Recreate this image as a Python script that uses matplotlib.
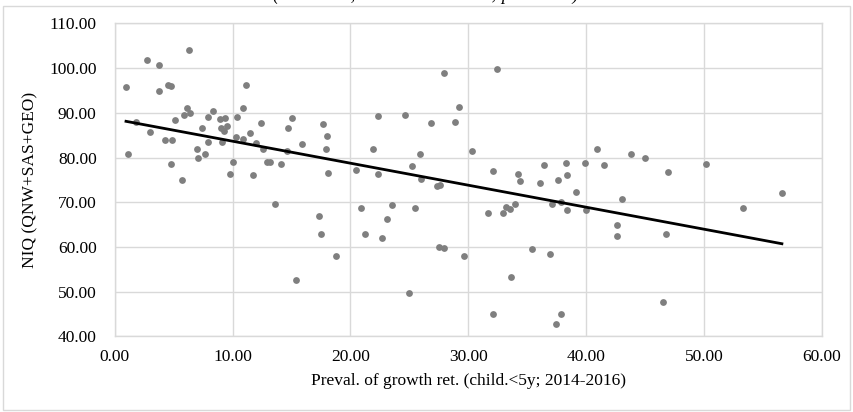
import numpy as np
import matplotlib
matplotlib.use("Agg")
import matplotlib.pyplot as plt
from matplotlib.patches import Rectangle

# prevalence of growth retardation (x) vs NIQ (y)
preval = [0.96, 1.1, 1.8, 2.7, 3.0, 3.8, 3.8, 4.5, 4.8, 4.3, 4.9, 4.8, 5.1, 5.7, 6.3, 6.1, 5.9, 6.4,
          7.0, 7.1, 7.4, 7.7, 7.9, 7.9, 8.3, 8.9, 9.4, 9.0, 9.5, 9.3, 9.1, 10.0, 9.8, 10.4, 10.3,
          10.9, 11.1, 10.9, 11.5, 12.4, 12.0, 12.6, 12.9, 13.2, 11.7, 13.6, 14.1, 15.0, 14.7, 14.6,
          15.9, 15.4, 17.7, 18.0, 17.9, 18.1, 17.3, 17.5, 18.8, 20.5, 20.9, 21.2, 21.9, 22.3, 22.3,
          22.7, 23.1, 23.5, 24.6, 25.0, 25.2, 25.5, 25.9, 26.0, 26.8, 27.3, 27.6, 27.5, 27.9, 27.9,
          28.9, 29.2, 29.6, 30.3, 31.7, 32.1, 32.1, 32.4, 32.9, 33.2, 33.5, 33.6, 34.0, 34.2, 34.4,
          35.4, 36.1, 36.4, 36.9, 37.1, 37.6, 37.4, 37.9, 37.9, 38.3, 38.4, 38.4, 39.1, 39.9, 40.0,
          40.9, 41.5, 42.6, 42.6, 43.0, 43.8, 45.0, 46.9, 50.2, 56.6, 53.3, 46.5, 46.8]
niq = [95.8, 80.7, 88.0, 101.7, 85.7, 100.7, 94.8, 96.3, 95.9, 83.9, 84.0, 78.6, 88.3, 75.0, 104.1, 91.0, 89.6, 90.0,
       81.9, 79.9, 86.6, 80.7, 83.4, 89.0, 90.3, 88.6, 88.8, 86.5, 87.0, 85.9, 83.5, 79.0, 76.3, 89.0, 84.6,
       91.0, 96.3, 84.1, 85.5, 87.8, 83.3, 81.8, 79.1, 78.9, 76.0, 69.7, 78.6, 88.9, 86.7, 81.5,
       83.1, 52.7, 87.6, 84.8, 81.8, 76.5, 67.0, 63.0, 58.0, 77.3, 68.8, 62.9, 82.0, 89.2, 76.4,
       62.1, 66.2, 69.5, 89.5, 49.7, 78.2, 68.8, 80.9, 75.1, 87.7, 73.7, 73.9, 59.9, 59.7, 98.9,
       87.9, 91.2, 58.0, 81.5, 67.7, 76.9, 45.0, 99.7, 67.7, 68.9, 68.4, 53.4, 69.7, 76.3, 74.8,
       59.6, 74.2, 78.4, 58.5, 69.7, 75.0, 42.8, 45.0, 70.0, 78.8, 76.1, 68.3, 72.4, 78.7, 68.3,
       82.0, 78.4, 64.9, 62.4, 70.7, 80.9, 79.9, 76.8, 78.5, 72.1, 68.7, 47.6, 62.8]

x_ticks = [0, 10, 20, 30, 40, 50, 60]
y_ticks = [40, 50, 60, 70, 80, 90, 100, 110]
title = "(r = \u22120.50, N = 130 countries; p < 0.001)"

plt.rcParams["font.family"] = ["Liberation Serif", "DejaVu Serif"]
grid_col = "#d9d9d9"

fig = plt.figure(figsize=(8.54, 4.12), dpi=100)
ax = fig.add_axes([0.1343, 0.1833, 0.8282, 0.7601])

ax.scatter(preval, niq, s=24, color="#7f7f7f", linewidths=0, zorder=3)

# linear trend line over the data range
slope, intercept = np.polyfit(preval, niq, 1)
xs = np.array([min(preval), max(preval)])
ax.plot(xs, slope * xs + intercept, color="black", lw=2.0, zorder=4)

ax.set_xlim(0, 60)
ax.set_ylim(40, 110)
ax.set_xticks(x_ticks)
ax.set_yticks(y_ticks)
ax.set_xticklabels([f"{v:.2f}" for v in x_ticks], fontsize=12.5)
ax.set_yticklabels([f"{v:.2f}" for v in y_ticks], fontsize=12.5)
ax.tick_params(length=0)
ax.tick_params(axis="y", pad=13)
ax.tick_params(axis="x", pad=9)
ax.grid(True, color=grid_col, lw=1.0)
ax.set_axisbelow(True)
for sp in ax.spines.values():
    sp.set_color(grid_col)
    sp.set_linewidth(1.0)

ax.set_xlabel("Preval. of growth ret. (child.<5y; 2014-2016)", fontsize=12.5, labelpad=6)
ax.set_ylabel("NIQ (QNW+SAS+GEO)", fontsize=12.5, labelpad=8)

# chart border and the clipped title above it
fig.patches.append(Rectangle((3.5 / 854, 1 - 409.5 / 412), 847 / 854, 404 / 412,
                             transform=fig.transFigure, fill=False, edgecolor=grid_col, lw=1.0))
fig.text(0.498, 1.0, title, ha="center", va="baseline", fontsize=13, style="italic")

fig.savefig("out.png", dpi=100)
